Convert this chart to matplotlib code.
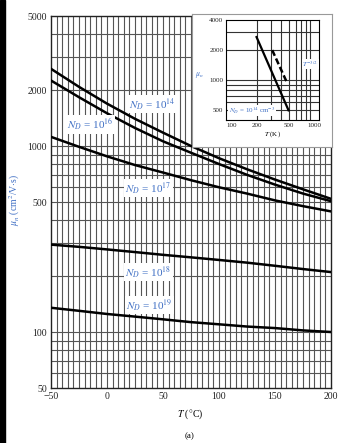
import matplotlib.pyplot as plt
import numpy as np

# main chart data
temps_c = [-50, -25, 0, 25, 50, 75, 100, 125, 150, 175, 200]
mu_1e14 = [2600, 2080, 1690, 1400, 1180, 1000, 860, 750, 660, 585, 520]
mu_1e16 = [2250, 1830, 1500, 1250, 1060, 920, 800, 700, 620, 555, 505]
mu_1e17 = [1120, 990, 880, 790, 720, 655, 600, 555, 510, 475, 445]
mu_1e18 = [295, 287, 278, 269, 260, 252, 244, 236, 227, 218, 210]
mu_1e19 = [135, 130, 125, 121, 117, 113, 110, 107, 105, 102, 100]

labels = ['14', '16', '17', '18', '19']
label_T = [40, -15, 37, 37, 38]
label_mu = [1680, 1300, 595, 210, 140]

y_ticks = [50, 100, 500, 1000, 2000, 5000]
x_ticks = [-50, 0, 50, 100, 150, 200]

# inset data
inset_T_solid = [200, 490]
inset_mu_solid = [2700, 500]
inset_T_dash = [310, 460]
inset_mu_dash = [2000, 980]
inset_x_ticks = [100, 200, 500, 1000]
inset_y_ticks = [500, 1000, 2000, 4000]

blue = '#3f6fc4'
grid_col = '#555555'

plt.rcParams['font.family'] = ['Liberation Serif', 'DejaVu Serif']
plt.rcParams['mathtext.fontset'] = 'stix'

W, H = 339, 443
fig = plt.figure(figsize=(W / 100, H / 100), dpi=100)

def frac(x0, y0, x1, y1):
    return [x0 / W, 1 - y1 / H, (x1 - x0) / W, (y1 - y0) / H]

ax = fig.add_axes(frac(51, 16, 331, 388))
ax.set_yscale('log')
ax.set_xlim(-50, 200)
ax.set_ylim(50, 5000)

for v in np.arange(-45, 200, 5):
    ax.axvline(v, color=grid_col, lw=0.8, zorder=1)
for dec in [10, 100, 1000]:
    for m in range(1, 10):
        v = dec * m
        if 50 < v < 5000:
            ax.axhline(v, color=grid_col, lw=0.8, zorder=1)

for mu in [mu_1e14, mu_1e16, mu_1e17, mu_1e18, mu_1e19]:
    ax.plot(temps_c, mu, color='black', lw=1.8, zorder=3)

for lab, t, m in zip(labels, label_T, label_mu):
    ax.text(t, m, r'$N_D$ = 10$^{%s}$' % lab, color=blue, fontsize=8,
            ha='center', va='center', zorder=4,
            bbox=dict(facecolor='white', edgecolor='none', pad=1.0))

ax.set_xticks(x_ticks)
ax.set_xticklabels(['\u221250', '0', '50', '100', '150', '200'])
ax.set_yticks(y_ticks)
ax.set_yticklabels([str(v) for v in y_ticks])
ax.minorticks_off()
ax.tick_params(labelsize=7, length=0, pad=3, colors='#222222')
for s in ax.spines.values():
    s.set_linewidth(1.0)
    s.set_color('#222222')

fig.text(15 / W, 1 - 200 / H, r'$\mu_n$ (cm$^2$/V$\cdot$s)', color=blue, fontsize=7,
         rotation=90, ha='center', va='center')
fig.text(190 / W, 1 - 414 / H, r'$T$ ($\degree$C)', fontsize=7, ha='center', va='center')
fig.text(190 / W, 1 - 436 / H, '(a)', fontsize=6.5, ha='center', va='center')

# inset box
box = fig.add_axes(frac(192, 14, 332, 147), zorder=2)
box.set_xticks([])
box.set_yticks([])
for s in box.spines.values():
    s.set_color('#999999')
    s.set_linewidth(0.8)

ins = fig.add_axes(frac(226, 20, 319, 120), zorder=3)
ins.set_xscale('log')
ins.set_yscale('log')
ins.set_xlim(85, 1150)
ins.set_ylim(400, 4000)
for m in range(2, 10):
    ins.axvline(100 * m, color='#333333', lw=0.8, zorder=1)
for dec in [100, 1000]:
    for m in range(1, 10):
        v = dec * m
        if 400 < v < 4000:
            ins.axhline(v, color='#333333', lw=0.8, zorder=1)
ins.plot(inset_T_solid, inset_mu_solid, color='black', lw=1.6, zorder=3)
ins.plot(inset_T_dash, inset_mu_dash, color='black', lw=1.8, ls=(0, (2.5, 1.2)), zorder=3)
ins.text(720, 1450, r'$T^{-3/2}$', color=blue, fontsize=5, ha='left', va='center', zorder=4,
         bbox=dict(facecolor='white', edgecolor='none', pad=0.3))
ins.text(92, 440, r'$N_D$ = 10$^{14}$ cm$^{-3}$', color=blue, fontsize=5, ha='left', va='bottom',
         zorder=4, bbox=dict(facecolor='white', edgecolor='none', pad=0.3))
ins.set_xticks(inset_x_ticks)
ins.set_xticklabels([str(v) for v in inset_x_ticks])
ins.set_yticks(inset_y_ticks)
ins.set_yticklabels([str(v) for v in inset_y_ticks])
ins.minorticks_off()
ins.tick_params(labelsize=5, length=0, pad=2, colors='#222222')
ins.set_xlabel(r'$T$ (K)', fontsize=5, labelpad=1)
fig.text(199 / W, 1 - 75 / H, r'$\mu_n$', color=blue, fontsize=5.5, ha='center', va='center',
         zorder=5)

# dark scan edge on the left
fig.patches.append(plt.Rectangle((0, 0), 5 / W, 1, transform=fig.transFigure,
                                 color='black', zorder=10))

fig.savefig('out.png', dpi=100)
